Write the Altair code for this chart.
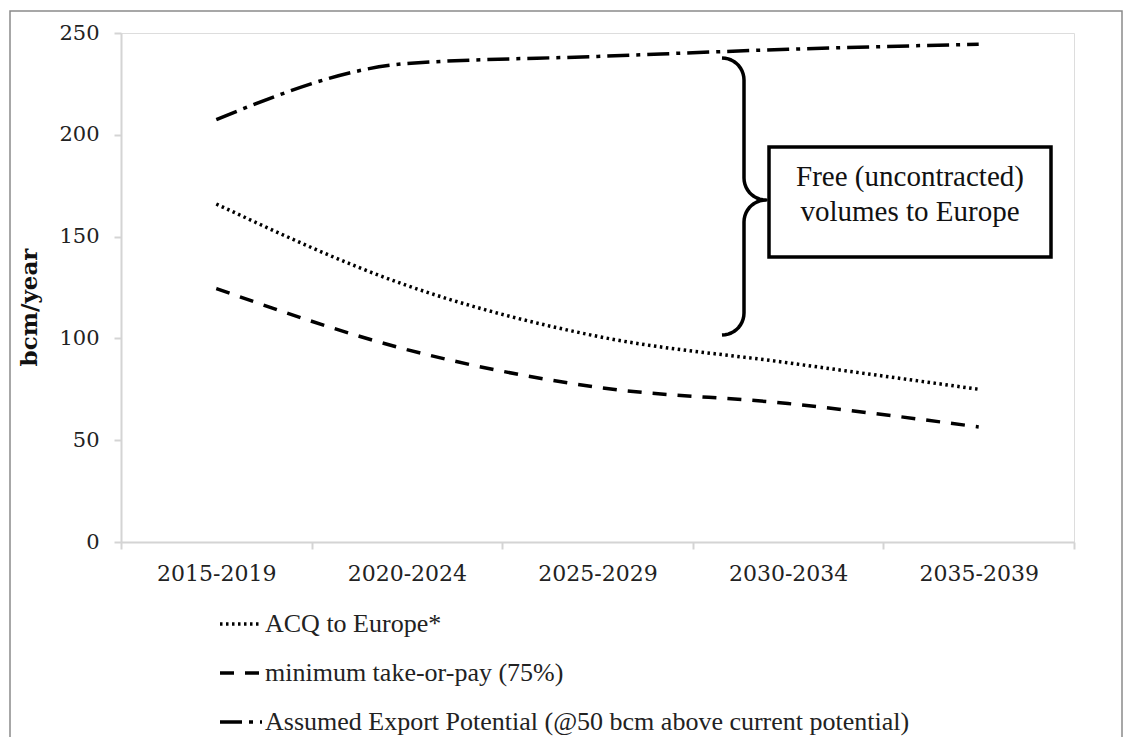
import altair as alt
import pandas as pd
import numpy as np

# ---- data ----
periods = ["2015-2019", "2020-2024", "2025-2029", "2030-2034", "2035-2039"]
acq_to_europe = [166, 126, 101, 88, 75]
min_take_or_pay = [124.5, 94.5, 76, 68, 56.5]
export_potential = [207.5, 235, 238.5, 242, 244.5]
series_names = [
    "ACQ to Europe*",
    "minimum take-or-pay (75%)",
    "Assumed Export Potential (@50 bcm above current potential)",
]
y_ticks = [0, 50, 100, 150, 200, 250]
annotation_lines = ["Free (uncontracted)", "volumes to Europe"]

rows = []
for name, vals in zip(series_names, [acq_to_europe, min_take_or_pay, export_potential]):
    for p, v in zip(periods, vals):
        rows.append({"period": p, "value": v, "series": name})
df = pd.DataFrame(rows)

W, H = 953, 509
OX, OY = 121, 33  # plot origin on the page

SERIF = "Liberation Serif"
NUMFONT = "DejaVu Serif"

lines = alt.Chart(df).mark_line(color="black", interpolate="monotone", strokeWidth=3.5, strokeCap="butt").encode(
    x=alt.X(
        "period:N", sort=periods, bandPosition=0.5,
        scale=alt.Scale(type="band", paddingInner=0, paddingOuter=0),
        axis=alt.Axis(
            title=None, tickBand="extent", labelAngle=0, labelFont=NUMFONT, labelFontSize=22,
            labelColor="#222222", labelPadding=14, tickSize=7, tickColor="#d4d4d4", tickWidth=2,
            domainColor="#d4d4d4", domainWidth=2,
        ),
    ),
    y=alt.Y(
        "value:Q", scale=alt.Scale(domain=[0, 250], nice=False),
        axis=alt.Axis(
            values=y_ticks, title="bcm/year", grid=False, labelFont=NUMFONT, labelFontSize=21,
            labelColor="#222222", labelPadding=15, tickSize=7, tickColor="#d4d4d4", tickWidth=2,
            domainColor="#d4d4d4", domainWidth=2, titleFont=NUMFONT, titleFontSize=23,
            titleFontWeight="bold", titleColor="#111111", titleAngle=270, titleX=-92, titleY=274,
            titleAlign="center", titleBaseline="middle",
        ),
    ),
    strokeDash=alt.StrokeDash(
        "series:N",
        scale=alt.Scale(domain=series_names, range=[[2.5, 3.5], [14, 11], [22, 7, 4, 7]]),
        legend=alt.Legend(
            title=None, orient="none", legendX=97, legendY=568, direction="vertical",
            symbolType="stroke", symbolSize=1764, symbolStrokeWidth=3.5, symbolStrokeColor="black",
            labelFont=SERIF, labelFontSize=26, labelColor="#222222", labelLimit=900,
            labelOffset=1, rowPadding=13, padding=0,
        ),
    ),
)

# ---- annotation: brace, box, text (pixel geometry, relative to plot origin) ----
def arc(cx, cy, r, a0, a1, n=12):
    t = np.radians(np.linspace(a0, a1, n))
    return list(cx + r * np.cos(t)), list(cy + r * np.sin(t))

bx, by = [], []
for seg in [
    arc(722, 80, 22, -90, 0),
    ([744], [178]),
    arc(766, 178, 22, 180, 90),
    arc(766, 222, 22, 270, 180),
    ([744], [313]),
    arc(722, 313, 22, 0, 90),
]:
    bx += seg[0]
    by += seg[1]
brace_df = pd.DataFrame({"px": [v - OX for v in bx], "py": [v - OY for v in by], "o": range(len(bx))})

brace = alt.Chart(brace_df).mark_line(color="black", strokeWidth=3.5, strokeJoin="round").encode(
    x=alt.X("px:Q", scale=None, axis=None),
    y=alt.Y("py:Q", scale=None, axis=None),
    order="o:Q",
)

box = alt.Chart(pd.DataFrame({"k": [0]})).mark_rect(fill="white", stroke="black", strokeWidth=3.5).encode(
    x=alt.value(769 - OX), x2=alt.value(1051 - OX), y=alt.value(147 - OY), y2=alt.value(257 - OY)
)

text_df = pd.DataFrame({"t": annotation_lines, "px": [910 - OX] * 2, "py": [177 - OY, 212 - OY]})
text = alt.Chart(text_df).mark_text(font=SERIF, fontSize=29, color="#111111", align="center", baseline="middle").encode(
    x=alt.X("px:Q", scale=None, axis=None),
    y=alt.Y("py:Q", scale=None, axis=None),
    text="t:N",
)

frame = alt.Chart(pd.DataFrame({"k": [0]})).mark_rect(fill="transparent", stroke="#8a8a8a", strokeWidth=1.5).encode(
    x=alt.value(10 - OX), x2=alt.value(1122 - OX), y=alt.value(11 - OY), y2=alt.value(760 - OY)
)

chart = alt.layer(frame, lines, brace, box, text).properties(
    width=W, height=H,
    autosize=alt.AutoSizeParams(type="none"),
    padding={"left": OX - 8, "top": OY - 8, "right": 51, "bottom": 195},
).configure_view(strokeWidth=0).configure(background="white")

chart.save("out.html", embed_options={"renderer": "svg", "actions": False})
